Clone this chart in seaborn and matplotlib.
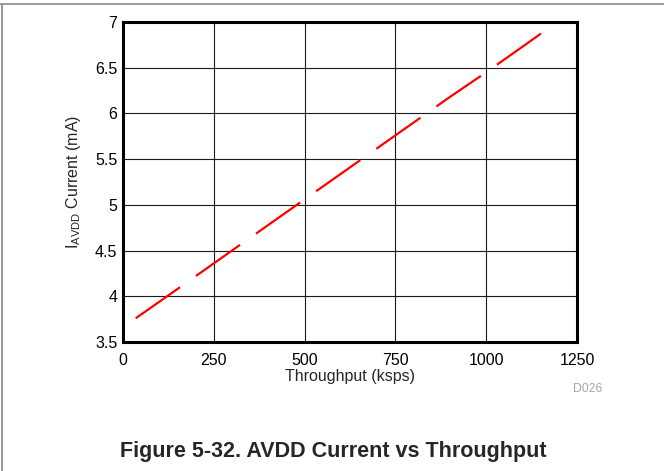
import matplotlib
matplotlib.use("Agg")
import matplotlib.pyplot as plt
from matplotlib.lines import Line2D
import seaborn as sns
import pandas as pd

# values
throughput = [35, 100, 200, 300, 400, 500, 600, 700, 800, 900, 1000, 1100, 1153]
avdd_current = [3.76, 3.94, 4.22, 4.50, 4.78, 5.06, 5.34, 5.62, 5.90, 6.18, 6.45, 6.73, 6.88]
x_ticks = [0, 250, 500, 750, 1000, 1250]
y_ticks = [3.5, 4, 4.5, 5, 5.5, 6, 6.5, 7]
y_tick_labels = ["3.5", "4", "4.5", "5", "5.5", "6", "6.5", "7"]

sns.set_style("white")
plt.rcParams["font.family"] = ["Liberation Sans", "DejaVu Sans"]
plt.rcParams["mathtext.fontset"] = "custom"
plt.rcParams["mathtext.rm"] = "Liberation Sans"

df = pd.DataFrame({"Throughput": throughput, "Current": avdd_current})

fig = plt.figure(figsize=(6.64, 4.71), dpi=100)
ax = fig.add_axes([123 / 664, 1 - 342 / 471, 454 / 664, 320 / 471])

sns.lineplot(data=df, x="Throughput", y="Current", ax=ax, color="#ff0000",
             lw=1.6, linestyle=(0, (24.3, 8.8)), estimator=None)

ax.set_xlim(0, 1250)
ax.set_ylim(3.5, 7)
ax.set_xticks(x_ticks)
ax.set_xticklabels([str(t) for t in x_ticks])
ax.set_yticks(y_ticks)
ax.set_yticklabels(y_tick_labels)
ax.grid(True, color="#1a1a1a", lw=0.8)
ax.set_axisbelow(True)
for s in ax.spines.values():
    s.set_visible(True)
    s.set_color("black")
    s.set_linewidth(2.2)
ax.tick_params(axis="x", length=0, pad=8, labelsize=11.5, colors="black")
ax.tick_params(axis="y", length=0, pad=4, labelsize=11.5, colors="black")

ax.set_xlabel("Throughput (ksps)", fontsize=11.5, labelpad=1)
ax.set_ylabel(r"$\mathregular{I_{AVDD}}$ Current (mA)", fontsize=11.5, labelpad=9)

fig.text(602 / 664, 1 - 389 / 471, "D026", fontsize=8.8, color="#a6a6a6",
         ha="right", va="center")
fig.text(333 / 664, 1 - 452 / 471, "Figure 5-32. AVDD Current vs Throughput",
         fontsize=15.5, fontweight="bold", ha="center", va="center")

# page frame lines (top and left)
fig.add_artist(Line2D([0, 1], [1 - 4 / 471, 1 - 4 / 471], transform=fig.transFigure,
                      color="#888888", lw=1.2))
fig.add_artist(Line2D([1.5 / 664, 1.5 / 664], [0, 1 - 4 / 471], transform=fig.transFigure,
                      color="#888888", lw=1.2))

fig.savefig("out.png", dpi=100)
